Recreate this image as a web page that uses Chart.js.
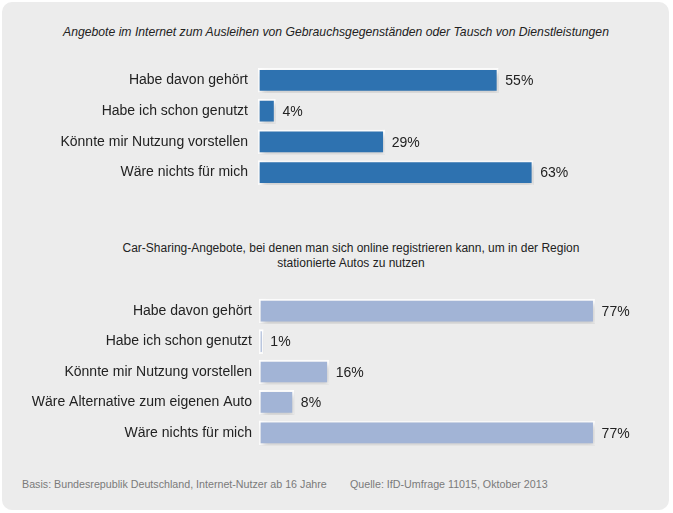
<!DOCTYPE html>
<html>
<head>
<meta charset="utf-8">
<script src="https://cdn.jsdelivr.net/npm/chart.js@4"></script>
<style>
  html, body { margin: 0; padding: 0; background: #fff; }
  body { width: 673px; height: 513px; position: relative; overflow: hidden; font-family: "Liberation Sans", Arial, sans-serif; }
  #panel { position: absolute; left: 2px; top: 2px; width: 667px; height: 508px; background: #ececec; border-radius: 10px; }
  .title { position: absolute; color: #222; font-size: 12px; text-align: center; line-height: 15px; }
  .foot { position: absolute; top: 478px; color: #7a7a7a; font-size: 10.7px; }
  .box { position: absolute; left: 0; }
</style>
</head>
<body>
<div id="panel"></div>
<div class="title" style="left:0; width:672px; top:25px; font-style:italic; font-size:12.2px;">Angebote im Internet zum Ausleihen von Gebrauchsgegenständen oder Tausch von Dienstleistungen</div>
<div class="title" style="left:0; width:702px; top:241px;">Car-Sharing-Angebote, bei denen man sich online registrieren kann, um in der Region<br>stationierte Autos zu nutzen</div>
<div class="foot" style="left:22px;">Basis: Bundesrepublik Deutschland, Internet-Nutzer ab 16 Jahre</div>
<div class="foot" style="left:350px;">Quelle: IfD-Umfrage 11015, Oktober 2013</div>

<div class="box" style="top:65px; width:660px; height:123px;"><canvas id="chart1"></canvas></div>
<div class="box" style="top:296px; width:660px; height:152px;"><canvas id="chart2"></canvas></div>

<script>
// Angebote im Internet
var labels1 = ["Habe davon gehört", "Habe ich schon genutzt", "Könnte mir Nutzung vorstellen", "Wäre nichts für mich"];
var values1 = [55, 4, 29, 63];

// Car-Sharing
var labels2 = ["Habe davon gehört", "Habe ich schon genutzt", "Könnte mir Nutzung vorstellen", "Wäre Alternative zum eigenen Auto", "Wäre nichts für mich"];
var values2 = [77, 1, 16, 8, 77];

// Schatten unter den Balken
var shadowPlugin = {
    id: 'shadow',
    beforeDatasetsDraw: function (chart) {
        var c = chart.ctx;
        c.save();
        c.shadowColor = 'rgba(0,0,0,0.22)';
        c.shadowBlur = 6;
        c.shadowOffsetX = 2;
        c.shadowOffsetY = 3;
    },
    afterDatasetsDraw: function (chart) {
        chart.ctx.restore();
    }
};

// Prozentwerte rechts neben den Balken
var valuePlugin = {
    id: 'values',
    afterDatasetsDraw: function (chart) {
        var c = chart.ctx;
        var meta = chart.getDatasetMeta(0);
        var data = chart.data.datasets[0].data;
        c.save();
        c.font = '14px "Liberation Sans", Arial, sans-serif';
        c.fillStyle = '#222';
        c.textBaseline = 'middle';
        meta.data.forEach(function (bar, i) {
            c.fillText(data[i] + '%', bar.x + 7, bar.y + 1);
        });
        c.restore();
    }
};

function makeChart(id, labels, values, color, axisWidth, pad) {
    return new Chart(document.getElementById(id), {
        type: 'bar',
        data: {
            labels: labels,
            datasets: [{
                data: values,
                backgroundColor: color,
                borderColor: '#ffffff',
                borderWidth: 2,
                borderSkipped: false,
                barThickness: 24
            }]
        },
        options: {
            indexAxis: 'y',
            responsive: true,
            maintainAspectRatio: false,
            animation: false,
            layout: { padding: 0 },
            plugins: { legend: { display: false }, tooltip: { enabled: false } },
            scales: {
                x: { display: false, min: 0, max: 92 },
                y: {
                    grid: { display: false, drawTicks: false },
                    border: { display: false },
                    afterFit: function (scale) {
                        scale.width = axisWidth;
                        scale.paddingTop = 0;
                        scale.paddingBottom = 0;
                    },
                    ticks: {
                        padding: pad,
                        color: '#222',
                        font: { size: 14, family: '"Liberation Sans", Arial, sans-serif' }
                    }
                }
            }
        },
        plugins: [shadowPlugin, valuePlugin]
    });
}

makeChart('chart1', labels1, values1, '#2e72b0', 258, 10);
makeChart('chart2', labels2, values2, '#a2b4d6', 259, 7);
</script>
</body>
</html>
